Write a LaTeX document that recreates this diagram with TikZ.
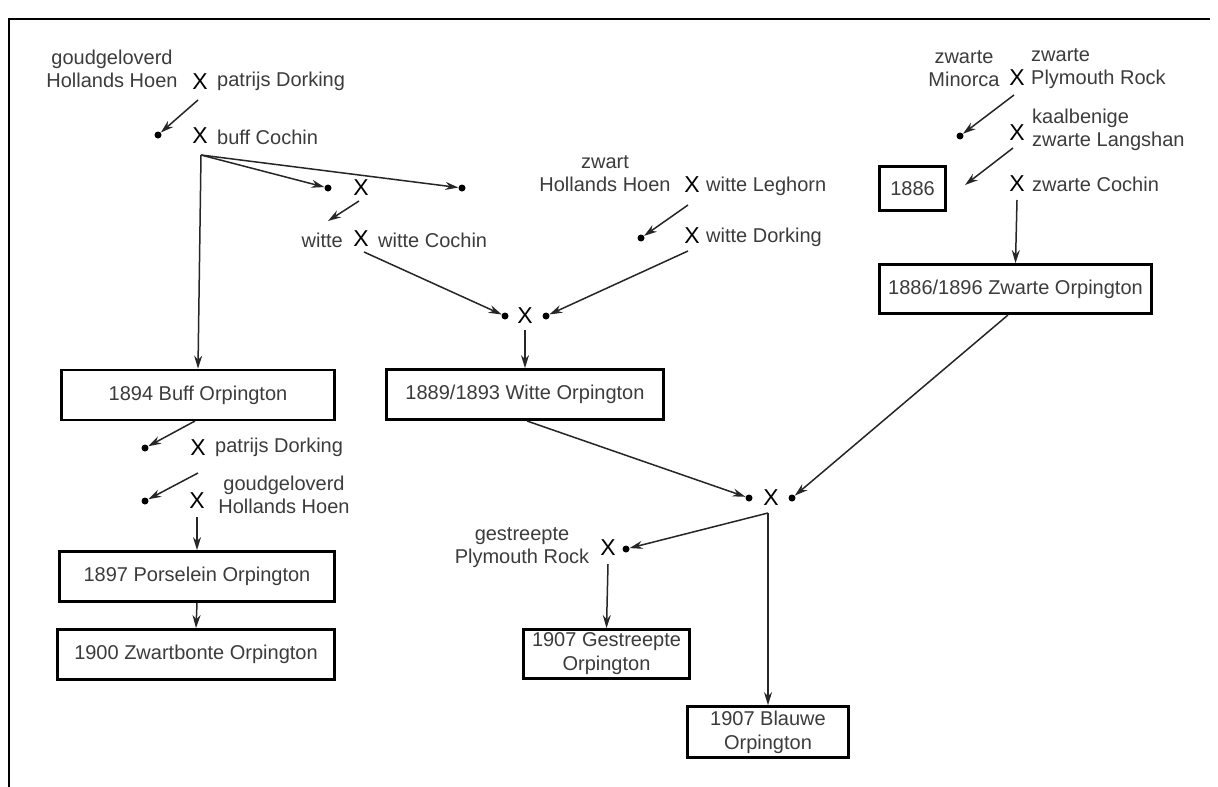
\documentclass[tikz,border=0pt]{standalone}
\usepackage{fontspec}
\setmainfont{Liberation Sans}
\usetikzlibrary{arrows.meta}
\definecolor{txtgray}{RGB}{60,60,60}
\tikzset{
  lbl/.style={text=txtgray, font=\fontsize{20}{23}\selectfont, inner sep=0pt},
  cx/.style={text=black, font=\fontsize{23}{23}\selectfont, inner sep=0pt},
  bx/.style={draw, line width=2.8pt, text=txtgray, align=center, inner sep=0pt,
             font=\fontsize{20}{24}\selectfont},
  dt/.style={circle, fill=black, inner sep=0pt, minimum size=7pt},
  arr/.style={-{Stealth[length=13pt,width=8pt]}, line width=1.5pt, draw=black!85},
  ln/.style={line width=1.5pt, draw=black!85}
}
\begin{document}
\begin{tikzpicture}[x=1pt,y=-1pt]
\useasboundingbox (0,0) rectangle (1218,787);
\fill[white] (0,0) rectangle (1218,787);
% frame
\coordinate (f1) at (9,787);
\coordinate (f2) at (9,19);
\coordinate (f3) at (1210,19);
\draw[line width=2pt] (f1) -- (f2) -- (f3);

% boxes
\node[bx, minimum width=273pt, minimum height=50pt] (buff) at (198,395) {1894 Buff Orpington};
\node[bx, minimum width=277pt, minimum height=50pt] (witte) at (525,394.5) {1889/1893 Witte Orpington};
\node[bx, minimum width=275pt, minimum height=50pt] (pors) at (197,576.5) {1897 Porselein Orpington};
\node[bx, minimum width=277pt, minimum height=50pt] (zbont) at (196,654.5) {1900 Zwartbonte Orpington};
\node[bx, minimum width=166pt, minimum height=49pt] (gestr) at (606.5,654) {1907 Gestreepte\\Orpington};
\node[bx, minimum width=161pt, minimum height=51pt] (blauw) at (768,732) {1907 Blauwe\\Orpington};
\node[bx, minimum width=272pt, minimum height=49pt] (zwarte) at (1015.5,289) {1886/1896 Zwarte Orpington};
\node[bx, minimum width=66pt, minimum height=44pt] (b1886) at (912.5,188.5) {1886};

% crosses
\node[cx] (xa) at (200,82) {X};
\node[cx] (xb) at (200,136) {X};
\node[cx] (xc) at (361,188) {X};
\node[cx] (xd) at (361,239) {X};
\node[cx] (xe) at (525,316) {X};
\node[cx] (xf) at (692,185) {X};
\node[cx] (xg) at (692,236) {X};
\node[cx] (xh) at (1017,78) {X};
\node[cx] (xi) at (1017,133) {X};
\node[cx] (xj) at (1017,184) {X};
\node[cx] (xk) at (771,498) {X};
\node[cx] (xl) at (198,448) {X};
\node[cx] (xm) at (197,501) {X};
\node[cx] (xn) at (608,548) {X};

% dots
\node[dt] (da) at (158,135) {};
\node[dt] (db) at (328,188) {};
\node[dt] (dc) at (462,188) {};
\node[dt] (dd) at (505,316) {};
\node[dt] (de) at (546,316) {};
\node[dt] (df) at (641,238) {};
\node[dt] (dg) at (960,136) {};
\node[dt] (dh) at (749,498) {};
\node[dt] (di) at (792,498) {};
\node[dt] (dj) at (626,549) {};
\node[dt] (dk) at (145,448) {};
\node[dt] (dl) at (145,501) {};

% labels
\node[lbl, align=center] (la1) at (112,68.5) {goudgeloverd\\Hollands Hoen};
\node[lbl, anchor=west] (la2) at (217,81) {patrijs Dorking};
\node[lbl, anchor=west] (lb) at (217,137) {buff Cochin};
\node[lbl, anchor=east] (ld1) at (343,240) {witte};
\node[lbl, anchor=west] (ld2) at (378,240) {witte Cochin};
\node[lbl, align=center] (lf1) at (605,174) {zwart\\Hollands Hoen};
\node[lbl, anchor=west] (lf2) at (706,186) {witte Leghorn};
\node[lbl, anchor=west] (lg) at (706,237) {witte Dorking};
\node[lbl, align=center] (lh1) at (964,68.5) {zwarte\\Minorca};
\node[lbl, align=left, anchor=west] (lh2) at (1031,68.5) {zwarte\\Plymouth Rock};
\node[lbl, align=left, anchor=west] (li) at (1032,129.5) {kaalbenige\\zwarte Langshan};
\node[lbl, anchor=west] (lj) at (1032,184) {zwarte Cochin};
\node[lbl, anchor=west] (ll) at (215,447) {patrijs Dorking};
\node[lbl, align=center] (lm) at (284,494.5) {goudgeloverd\\Hollands Hoen};
\node[lbl, align=center] (ln) at (522,547.5) {gestreepte\\Plymouth Rock};

% connector coordinates
\coordinate (sa) at (198,100);
\coordinate (bp) at (201,155);
\coordinate (sc) at (359,201);
\coordinate (ec) at (328,221);
\coordinate (sd) at (364,252);
\coordinate (se) at (525,330);
\coordinate (sf) at (688,205);
\coordinate (sg) at (688,251);
\coordinate (sh) at (1014,95);
\coordinate (si) at (1013,148);
\coordinate (ei) at (965,185);
\coordinate (sj) at (1017,200);
\coordinate (sk) at (768,513);
\coordinate (sn) at (608,564);
\coordinate (sl) at (198,473);
\coordinate (sm) at (197,517);
\coordinate (bs) at (195,421);
\coordinate (ws) at (527,421);
\coordinate (zs) at (1008,315);

% connectors
\draw[arr] (sa) -- (da);
\draw[arr] (bp) -- (buff.north);
\draw[arr] (bp) -- (db);
\draw[arr] (bp) -- (dc);
\draw[arr] (sc) -- (ec);
\draw[arr] (sd) -- (dd);
\draw[arr] (se) -- (witte.north);
\draw[arr] (sf) -- (df);
\draw[arr] (sg) -- (de);
\draw[arr] (sh) -- (dg);
\draw[arr] (si) -- (ei);
\draw[arr] (sj) -- (zwarte.north);
\draw[arr] (zs) -- (di);
\draw[arr] (ws) -- (dh);
\draw[arr] (sk) -- (dj);
\draw[arr] (sk) -- (blauw.north);
\draw[arr] (sn) -- (gestr.north);
\draw[arr] (bs) -- (dk);
\draw[arr] (sl) -- (dl);
\draw[arr] (sm) -- (pors.north);
\draw[arr] (pors.south) -- (zbont.north);
\end{tikzpicture}
\end{document}
